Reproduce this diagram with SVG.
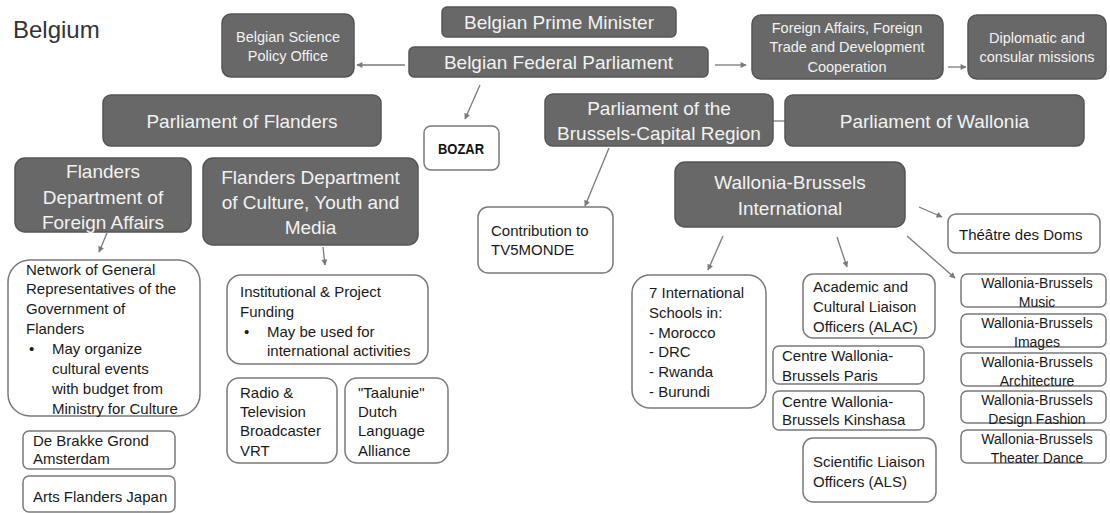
<svg xmlns="http://www.w3.org/2000/svg" width="1110" height="513" viewBox="0 0 1110 513">
  <defs>
    <marker id="arr" viewBox="0 0 10 10" refX="9" refY="5" markerWidth="8" markerHeight="6" markerUnits="userSpaceOnUse" orient="auto">
      <path d="M0,0 L10,5 L0,10 z" fill="#7a7a7a"/>
    </marker>
    <style>
      text { font-family: "Liberation Sans", Arial, sans-serif; }
      .dk { fill: #686868; stroke: #555555; stroke-width: 1.5; }
      .wt { fill: #ffffff; stroke: #7a7a7a; stroke-width: 1.5; }
      .big { fill: #f2f2f2; font-size: 19px; text-anchor: middle; }
      .sm { fill: #f2f2f2; font-size: 14.5px; text-anchor: middle; }
      .bk { fill: #1a1a1a; font-size: 15px; }
      .wb { fill: #1a1a1a; font-size: 14px; text-anchor: middle; }
      .cn { fill: none; stroke: #7a7a7a; stroke-width: 1.3; }
      .ar { marker-end: url(#arr); }
    </style>
  </defs>

  <rect width="1110" height="513" fill="#ffffff"/>
  <text x="13" y="38" font-size="24" fill="#333333">Belgium</text>

  <!-- connectors -->
  <g id="connectors">
    <line class="cn ar" x1="405" y1="65" x2="357" y2="65"/>
    <line class="cn ar" x1="715" y1="65" x2="746" y2="65"/>
    <line class="cn ar" x1="948" y1="67" x2="966" y2="67"/>
    <line class="cn ar" x1="480" y1="85" x2="465" y2="119"/>
    <line class="cn" x1="773" y1="121" x2="785" y2="121"/>
    <line class="cn ar" x1="107" y1="233" x2="99" y2="252"/>
    <line class="cn ar" x1="323" y1="247" x2="325" y2="265"/>
    <line class="cn ar" x1="609" y1="148" x2="585" y2="206"/>
    <line class="cn ar" x1="723" y1="236" x2="708" y2="270"/>
    <line class="cn ar" x1="837" y1="237" x2="847" y2="267"/>
    <line class="cn ar" x1="919" y1="207" x2="942" y2="217"/>
    <line class="cn ar" x1="907" y1="236" x2="955" y2="278"/>
  </g>

  <!-- federal level -->
  <g id="prime-minister">
    <rect class="dk" x="442" y="7" width="234" height="30" rx="5"/>
    <text class="big" x="559" y="29">Belgian Prime Minister</text>
  </g>
  <g id="federal-parliament">
    <rect class="dk" x="409" y="47" width="299" height="30" rx="5"/>
    <text class="big" x="558.5" y="69">Belgian Federal Parliament</text>
  </g>
  <g id="science-policy">
    <rect class="dk" x="222" y="14" width="132" height="63" rx="9"/>
    <text class="sm" x="288" y="42">Belgian Science</text>
    <text class="sm" x="288" y="61">Policy Office</text>
  </g>
  <g id="foreign-affairs">
    <rect class="dk" x="752" y="15" width="191" height="64" rx="9"/>
    <text class="sm" x="847" y="33">Foreign Affairs, Foreign</text>
    <text class="sm" x="847" y="52">Trade and Development</text>
    <text class="sm" x="847" y="72">Cooperation</text>
  </g>
  <g id="diplomatic-missions">
    <rect class="dk" x="968" y="15" width="138" height="64" rx="9"/>
    <text class="sm" x="1037" y="43">Diplomatic and</text>
    <text class="sm" x="1037" y="62">consular missions</text>
  </g>
  <g id="bozar">
    <rect class="wt" x="424" y="126" width="75" height="44" rx="7"/>
    <text x="461" y="153.5" font-size="14.5" font-weight="bold" fill="#111111" text-anchor="middle" textLength="46" lengthAdjust="spacingAndGlyphs">BOZAR</text>
  </g>

  <!-- regional parliaments -->
  <g id="parliament-flanders">
    <rect class="dk" x="103" y="95" width="278" height="51" rx="8"/>
    <text class="big" x="242" y="128">Parliament of Flanders</text>
  </g>
  <g id="parliament-brussels">
    <rect class="dk" x="545" y="94" width="228" height="52" rx="8"/>
    <text class="big" x="659" y="115">Parliament of the</text>
    <text class="big" x="659" y="140">Brussels-Capital Region</text>
  </g>
  <g id="parliament-wallonia">
    <rect class="dk" x="785" y="95" width="299" height="51" rx="8"/>
    <text class="big" x="934.5" y="128">Parliament of Wallonia</text>
  </g>

  <!-- Flanders -->
  <g id="flanders-foreign">
    <rect class="dk" x="15" y="158" width="176" height="74" rx="10"/>
    <text class="big" x="103" y="178" font-size="19.5">Flanders</text>
    <text class="big" x="103" y="204" font-size="19.5">Department of</text>
    <text class="big" x="103" y="229" font-size="19.5">Foreign Affairs</text>
  </g>
  <g id="flanders-culture">
    <rect class="dk" x="203" y="158" width="215" height="87" rx="10"/>
    <text class="big" x="310.5" y="184" font-size="19.5">Flanders Department</text>
    <text class="big" x="310.5" y="209" font-size="19.5">of Culture, Youth and</text>
    <text class="big" x="310.5" y="234" font-size="19.5">Media</text>
  </g>
  <g id="general-representatives">
    <rect class="wt" x="8" y="260" width="192" height="156" rx="22"/>
    <text class="bk" x="26" y="275">Network of General</text>
    <text class="bk" x="26" y="294">Representatives of the</text>
    <text class="bk" x="26" y="314">Government of</text>
    <text class="bk" x="26" y="334">Flanders</text>
    <text class="bk" x="29" y="354">•</text>
    <text class="bk" x="52" y="354">May organize</text>
    <text class="bk" x="52" y="374">cultural events</text>
    <text class="bk" x="52" y="394">with budget from</text>
    <text class="bk" x="52" y="414">Ministry for Culture</text>
  </g>
  <g id="brakke-grond">
    <rect class="wt" x="23" y="431" width="152" height="38" rx="6"/>
    <text class="bk" x="33" y="446">De Brakke Grond</text>
    <text class="bk" x="33" y="464">Amsterdam</text>
  </g>
  <g id="arts-flanders-japan">
    <rect class="wt" x="23" y="476" width="152" height="36" rx="6"/>
    <text class="bk" x="33" y="502">Arts Flanders Japan</text>
  </g>
  <g id="project-funding">
    <rect class="wt" x="227" y="275" width="201" height="89" rx="14"/>
    <text class="bk" x="240" y="297">Institutional &amp; Project</text>
    <text class="bk" x="240" y="317">Funding</text>
    <text class="bk" x="244" y="337">•</text>
    <text class="bk" x="267" y="337">May be used for</text>
    <text class="bk" x="267" y="356">international activities</text>
  </g>
  <g id="vrt">
    <rect class="wt" x="227" y="378" width="110" height="85" rx="12"/>
    <text class="bk" x="240" y="398">Radio &amp;</text>
    <text class="bk" x="240" y="417">Television</text>
    <text class="bk" x="240" y="436">Broadcaster</text>
    <text class="bk" x="240" y="456">VRT</text>
  </g>
  <g id="taalunie">
    <rect class="wt" x="345" y="378" width="103" height="85" rx="12"/>
    <text class="bk" x="358" y="398">"Taalunie"</text>
    <text class="bk" x="358" y="417">Dutch</text>
    <text class="bk" x="358" y="436">Language</text>
    <text class="bk" x="358" y="456">Alliance</text>
  </g>

  <!-- Brussels / Wallonia -->
  <g id="tv5monde">
    <rect class="wt" x="478" y="207" width="135" height="66" rx="10"/>
    <text class="bk" x="491" y="236">Contribution to</text>
    <text class="bk" x="491" y="255">TV5MONDE</text>
  </g>
  <g id="wbi">
    <rect class="dk" x="675" y="162" width="230" height="65" rx="10"/>
    <text class="big" x="790" y="189">Wallonia-Brussels</text>
    <text class="big" x="790" y="215">International</text>
  </g>
  <g id="theatre-doms">
    <rect class="wt" x="948" y="214" width="152" height="39" rx="8"/>
    <text class="bk" x="959" y="240">Théâtre des Doms</text>
  </g>
  <g id="international-schools">
    <rect class="wt" x="632" y="275" width="134" height="133" rx="18"/>
    <text class="bk" x="649" y="298">7 International</text>
    <text class="bk" x="649" y="318">Schools in:</text>
    <text class="bk" x="649" y="338">- Morocco</text>
    <text class="bk" x="649" y="357">- DRC</text>
    <text class="bk" x="649" y="377">- Rwanda</text>
    <text class="bk" x="649" y="397">- Burundi</text>
  </g>
  <g id="alac">
    <rect class="wt" x="803" y="274" width="132" height="64" rx="10"/>
    <text class="bk" x="813" y="292">Academic and</text>
    <text class="bk" x="813" y="312">Cultural Liaison</text>
    <text class="bk" x="813" y="332">Officers (ALAC)</text>
  </g>
  <g id="centre-paris">
    <rect class="wt" x="773" y="346" width="151" height="38" rx="6"/>
    <text class="bk" x="782" y="361">Centre Wallonia-</text>
    <text class="bk" x="782" y="381">Brussels Paris</text>
  </g>
  <g id="centre-kinshasa">
    <rect class="wt" x="773" y="391" width="151" height="39" rx="6"/>
    <text class="bk" x="782" y="407">Centre Wallonia-</text>
    <text class="bk" x="782" y="425">Brussels Kinshasa</text>
  </g>
  <g id="als">
    <rect class="wt" x="803" y="438" width="133" height="64" rx="10"/>
    <text class="bk" x="813" y="467">Scientific Liaison</text>
    <text class="bk" x="813" y="487">Officers (ALS)</text>
  </g>
  <g id="wb-music">
    <rect class="wt" x="961" y="274" width="145" height="33" rx="6"/>
    <text class="wb" x="1037" y="288">Wallonia-Brussels</text>
    <text class="wb" x="1037" y="307">Music</text>
  </g>
  <g id="wb-images">
    <rect class="wt" x="961" y="314" width="145" height="33" rx="6"/>
    <text class="wb" x="1037" y="328">Wallonia-Brussels</text>
    <text class="wb" x="1037" y="347">Images</text>
  </g>
  <g id="wb-architecture">
    <rect class="wt" x="961" y="353" width="145" height="33" rx="6"/>
    <text class="wb" x="1037" y="367">Wallonia-Brussels</text>
    <text class="wb" x="1037" y="386">Architecture</text>
  </g>
  <g id="wb-design-fashion">
    <rect class="wt" x="961" y="391" width="145" height="32" rx="6"/>
    <text class="wb" x="1037" y="405">Wallonia-Brussels</text>
    <text class="wb" x="1037" y="424">Design Fashion</text>
  </g>
  <g id="wb-theater-dance">
    <rect class="wt" x="961" y="430" width="145" height="33" rx="6"/>
    <text class="wb" x="1037" y="444">Wallonia-Brussels</text>
    <text class="wb" x="1037" y="463">Theater Dance</text>
  </g>
</svg>
